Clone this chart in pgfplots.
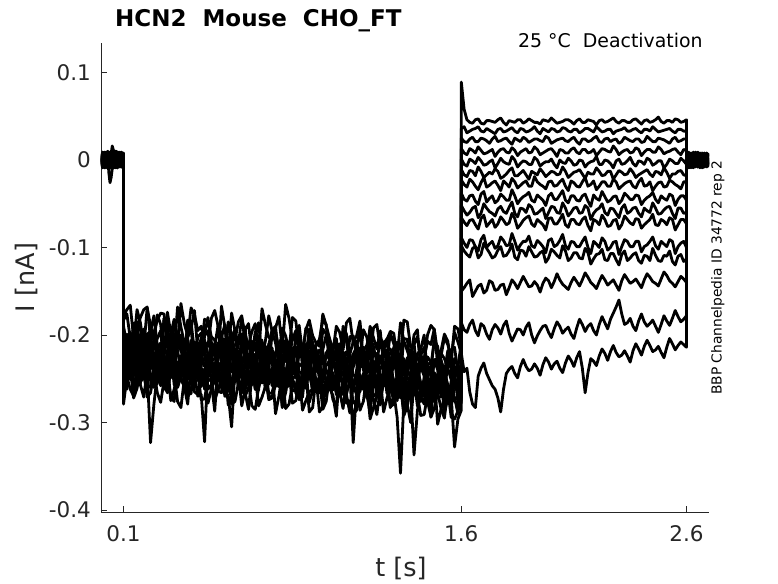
\documentclass[border=0pt]{standalone}
\usepackage{fontspec}
\setmainfont{DejaVu Sans}
\usepackage{pgfplots}
\usepackage{pgfplotstable}
\pgfplotsset{compat=1.18}
\definecolor{axgray}{RGB}{38,38,38}
\pgfplotstableread{
x c1 c2 c3 c4 c5 c6 c7 c8 c9 c10 c11 c12 c13 c14 c15
0 0.004 -0.003 0.006 -0.005 0.002 -0.007 0.008 -0.002 0.005 -0.006 0.001 -0.004 0.007 -0.008 0.003
0.0075 -0.008 0.005 -0.004 0.009 -0.006 0.003 -0.007 0.006 -0.002 0.008 -0.005 0.002 -0.009 0.004 -0.003
0.015 -0.006 0.007 -0.002 0.005 -0.008 0.004 -0.003 0.009 -0.005 0.002 -0.007 0.006 -0.001 0.004 -0.009
0.0225 0.009 -0.006 0.007 -0.003 0.004 -0.009 0.006 -0.005 0.008 -0.004 0.003 -0.008 0.005 -0.002 0.007
0.03 0.007 -0.005 0.003 -0.009 0.006 -0.002 0.010 -0.006 0.001 0.008 -0.004 0.002 -0.007 0.005 0.000
0.035 -0.006 0.009 -0.015 0.002 -0.009 0.006 -0.005 0.008 -0.003 0.005 -0.008 0.004 -0.006 0.009 -0.004
0.04 -0.003 0.006 -0.026 0.004 -0.005 0.009 -0.004 0.002 -0.008 -0.003 0.007 -0.009 0.004 -0.002 0.006
0.045 0.008 -0.005 -0.020 -0.008 0.007 -0.003 0.009 -0.006 0.004 -0.009 0.006 -0.002 0.008 -0.006 0.003
0.05 0.005 -0.008 -0.010 -0.003 0.016 -0.006 0.003 -0.007 0.010 0.004 -0.002 0.005 -0.005 0.009 -0.004
0.0575 -0.004 0.006 -0.008 0.005 0.009 0.007 -0.006 0.003 -0.009 0.007 -0.004 0.008 -0.003 0.005 -0.007
0.065 -0.007 0.003 0.005 0.008 -0.004 0.002 -0.009 0.006 -0.003 -0.008 0.010 -0.006 0.002 -0.005 0.007
0.0725 0.007 -0.009 0.004 -0.006 0.005 -0.004 0.008 -0.008 0.002 -0.005 0.009 -0.003 0.006 -0.009 0.005
0.08 0.006 -0.002 -0.006 -0.007 0.003 -0.008 0.005 -0.004 0.007 0.003 -0.006 0.009 -0.008 0.001 -0.003
0.09 -0.008 0.004 -0.007 0.006 -0.003 0.008 -0.005 0.005 -0.008 0.009 -0.002 0.007 -0.004 0.006 -0.008
0.1 -0.004 0.008 0.002 0.003 -0.006 0.005 -0.002 0.007 -0.005 0.006 -0.003 -0.002 0.005 -0.007 0.004
0.1001 -0.178 -0.251 -0.221 -0.268 -0.199 -0.240 -0.183 -0.262 -0.226 -0.212 -0.238 -0.279 -0.190 -0.247 -0.203
0.115 -0.171 -0.262 -0.199 -0.249 -0.215 -0.233 -0.176 -0.240 -0.208 -0.236 -0.219 -0.248 -0.211 -0.228 -0.217
0.13 -0.166 -0.222 -0.231 -0.238 -0.236 -0.208 -0.204 -0.229 -0.197 -0.251 -0.205 -0.262 -0.222 -0.214 -0.240
0.145 -0.204 -0.231 -0.226 -0.272 -0.201 -0.215 -0.212 -0.263 -0.231 -0.219 -0.243 -0.270 -0.187 -0.253 -0.236
0.16 -0.192 -0.258 -0.186 -0.261 -0.204 -0.246 -0.171 -0.255 -0.229 -0.218 -0.241 -0.236 -0.185 -0.252 -0.199
0.175 -0.180 -0.255 -0.194 -0.236 -0.232 -0.250 -0.186 -0.232 -0.200 -0.254 -0.211 -0.257 -0.224 -0.218 -0.206
0.19 -0.171 -0.217 -0.214 -0.247 -0.229 -0.213 -0.215 -0.223 -0.193 -0.247 -0.202 -0.271 -0.230 -0.209 -0.244
0.205 -0.168 -0.226 -0.222 -0.265 -0.209 -0.224 -0.169 -0.271 -0.235 -0.228 -0.230 -0.241 -0.199 -0.261 -0.243
0.22 -0.204 -0.249 -0.192 -0.230 -0.197 -0.237 -0.189 -0.266 -0.221 -0.209 -0.236 -0.323 -0.196 -0.258 -0.211
0.235 -0.197 -0.260 -0.203 -0.243 -0.240 -0.207 -0.207 -0.244 -0.216 -0.243 -0.205 -0.279 -0.178 -0.234 -0.221
0.25 -0.183 -0.228 -0.227 -0.266 -0.238 -0.219 -0.177 -0.234 -0.204 -0.256 -0.210 -0.245 -0.212 -0.216 -0.237
0.265 -0.175 -0.242 -0.234 -0.277 -0.217 -0.247 -0.188 -0.258 -0.195 -0.215 -0.238 -0.252 -0.227 -0.209 -0.248
0.28 -0.176 -0.262 -0.181 -0.252 -0.208 -0.251 -0.226 -0.249 -0.236 -0.221 -0.248 -0.258 -0.181 -0.245 -0.202
0.295 -0.210 -0.221 -0.190 -0.238 -0.196 -0.229 -0.174 -0.237 -0.228 -0.260 -0.218 -0.266 -0.205 -0.257 -0.213
0.31 -0.199 -0.219 -0.218 -0.275 -0.225 -0.210 -0.198 -0.271 -0.199 -0.243 -0.207 -0.240 -0.232 -0.211 -0.249
0.325 -0.182 -0.257 -0.225 -0.262 -0.235 -0.214 -0.220 -0.276 -0.211 -0.231 -0.249 -0.244 -0.184 -0.226 -0.239
0.34 -0.214 -0.253 -0.197 -0.241 -0.201 -0.243 -0.168 -0.231 -0.218 -0.212 -0.239 -0.276 -0.201 -0.260 -0.215
0.355 -0.164 -0.239 -0.208 -0.250 -0.212 -0.252 -0.191 -0.249 -0.239 -0.206 -0.226 -0.283 -0.219 -0.248 -0.200
0.37 -0.187 -0.231 -0.232 -0.259 -0.240 -0.216 -0.209 -0.259 -0.207 -0.259 -0.213 -0.250 -0.215 -0.219 -0.233
0.385 -0.201 -0.268 -0.183 -0.279 -0.228 -0.226 -0.203 -0.226 -0.204 -0.250 -0.212 -0.259 -0.196 -0.212 -0.246
0.40 -0.169 -0.267 -0.185 -0.234 -0.211 -0.254 -0.193 -0.238 -0.233 -0.224 -0.251 -0.264 -0.193 -0.243 -0.206
0.415 -0.177 -0.228 -0.219 -0.244 -0.241 -0.208 -0.172 -0.265 -0.226 -0.234 -0.244 -0.236 -0.231 -0.259 -0.224
0.43 -0.195 -0.224 -0.221 -0.270 -0.222 -0.212 -0.219 -0.268 -0.202 -0.240 -0.209 -0.243 -0.236 -0.214 -0.252
0.445 -0.190 -0.259 -0.236 -0.268 -0.203 -0.249 -0.215 -0.243 -0.198 -0.219 -0.221 -0.274 -0.207 -0.237 -0.208
0.46 -0.208 -0.246 -0.201 -0.322 -0.206 -0.239 -0.182 -0.242 -0.219 -0.215 -0.236 -0.273 -0.199 -0.262 -0.218
0.475 -0.213 -0.245 -0.195 -0.233 -0.222 -0.231 -0.184 -0.278 -0.233 -0.262 -0.235 -0.250 -0.180 -0.221 -0.250
0.49 -0.181 -0.236 -0.229 -0.249 -0.243 -0.219 -0.202 -0.262 -0.209 -0.257 -0.217 -0.253 -0.208 -0.222 -0.230
0.505 -0.172 -0.232 -0.213 -0.274 -0.237 -0.212 -0.206 -0.252 -0.215 -0.237 -0.210 -0.287 -0.222 -0.254 -0.227
0.52 -0.190 -0.264 -0.189 -0.263 -0.214 -0.251 -0.230 -0.236 -0.235 -0.227 -0.248 -0.231 -0.227 -0.246 -0.209
0.535 -0.199 -0.266 -0.230 -0.251 -0.208 -0.256 -0.167 -0.231 -0.241 -0.213 -0.247 -0.260 -0.203 -0.232 -0.211
0.55 -0.217 -0.227 -0.224 -0.237 -0.226 -0.215 -0.191 -0.270 -0.205 -0.244 -0.212 -0.268 -0.188 -0.217 -0.255
0.565 -0.185 -0.237 -0.188 -0.280 -0.230 -0.228 -0.221 -0.269 -0.207 -0.251 -0.226 -0.242 -0.234 -0.264 -0.244
0.58 -0.200 -0.255 -0.198 -0.274 -0.203 -0.242 -0.175 -0.305 -0.221 -0.213 -0.240 -0.279 -0.214 -0.265 -0.220
0.595 -0.206 -0.254 -0.221 -0.239 -0.244 -0.217 -0.195 -0.240 -0.228 -0.230 -0.216 -0.276 -0.192 -0.216 -0.230
0.61 -0.185 -0.233 -0.233 -0.256 -0.245 -0.221 -0.211 -0.244 -0.211 -0.260 -0.219 -0.255 -0.235 -0.225 -0.236
0.625 -0.178 -0.225 -0.207 -0.266 -0.213 -0.250 -0.180 -0.281 -0.199 -0.266 -0.241 -0.253 -0.216 -0.243 -0.205
0.64 -0.209 -0.270 -0.191 -0.243 -0.216 -0.255 -0.199 -0.263 -0.238 -0.229 -0.250 -0.266 -0.194 -0.249 -0.212
0.655 -0.212 -0.261 -0.238 -0.254 -0.226 -0.233 -0.213 -0.248 -0.236 -0.222 -0.229 -0.285 -0.187 -0.230 -0.252
0.67 -0.196 -0.229 -0.226 -0.281 -0.229 -0.217 -0.223 -0.237 -0.207 -0.246 -0.214 -0.248 -0.221 -0.220 -0.257
0.685 -0.187 -0.243 -0.196 -0.285 -0.239 -0.209 -0.201 -0.262 -0.217 -0.245 -0.252 -0.247 -0.228 -0.262 -0.222
0.70 -0.221 -0.258 -0.203 -0.260 -0.209 -0.245 -0.186 -0.259 -0.224 -0.216 -0.243 -0.281 -0.206 -0.263 -0.223
0.715 -0.170 -0.230 -0.225 -0.246 -0.206 -0.255 -0.226 -0.235 -0.209 -0.234 -0.214 -0.271 -0.209 -0.219 -0.238
0.73 -0.188 -0.237 -0.236 -0.248 -0.247 -0.223 -0.207 -0.246 -0.213 -0.262 -0.221 -0.259 -0.239 -0.227 -0.239
0.745 -0.203 -0.267 -0.211 -0.270 -0.231 -0.236 -0.178 -0.274 -0.243 -0.210 -0.238 -0.256 -0.241 -0.250 -0.214
0.76 -0.203 -0.266 -0.194 -0.271 -0.218 -0.258 -0.196 -0.272 -0.240 -0.231 -0.252 -0.238 -0.197 -0.251 -0.215
0.775 -0.192 -0.248 -0.190 -0.257 -0.242 -0.220 -0.209 -0.253 -0.220 -0.259 -0.223 -0.290 -0.195 -0.236 -0.256
0.79 -0.179 -0.231 -0.229 -0.239 -0.231 -0.219 -0.233 -0.239 -0.209 -0.248 -0.216 -0.270 -0.217 -0.223 -0.259
0.805 -0.216 -0.226 -0.233 -0.283 -0.217 -0.258 -0.192 -0.282 -0.203 -0.241 -0.255 -0.244 -0.213 -0.271 -0.231
0.82 -0.165 -0.260 -0.206 -0.265 -0.212 -0.247 -0.201 -0.261 -0.226 -0.218 -0.245 -0.284 -0.230 -0.266 -0.225
0.835 -0.181 -0.258 -0.217 -0.242 -0.229 -0.230 -0.218 -0.241 -0.237 -0.225 -0.218 -0.279 -0.232 -0.224 -0.219
0.85 -0.206 -0.239 -0.238 -0.278 -0.249 -0.225 -0.180 -0.248 -0.215 -0.264 -0.224 -0.257 -0.203 -0.229 -0.241
0.865 -0.195 -0.236 -0.200 -0.275 -0.248 -0.214 -0.184 -0.266 -0.214 -0.263 -0.236 -0.258 -0.201 -0.248 -0.247
0.88 -0.224 -0.268 -0.197 -0.252 -0.220 -0.260 -0.214 -0.274 -0.242 -0.233 -0.254 -0.246 -0.189 -0.253 -0.218
0.895 -0.220 -0.271 -0.237 -0.255 -0.210 -0.252 -0.223 -0.238 -0.245 -0.236 -0.249 -0.286 -0.221 -0.260 -0.226
0.91 -0.194 -0.233 -0.231 -0.244 -0.233 -0.221 -0.192 -0.241 -0.211 -0.250 -0.218 -0.275 -0.226 -0.225 -0.261
0.925 -0.183 -0.245 -0.208 -0.288 -0.235 -0.237 -0.199 -0.277 -0.208 -0.218 -0.222 -0.265 -0.193 -0.232 -0.240
0.94 -0.201 -0.262 -0.208 -0.283 -0.214 -0.249 -0.225 -0.263 -0.228 -0.220 -0.247 -0.262 -0.211 -0.268 -0.227
0.955 -0.209 -0.229 -0.226 -0.249 -0.223 -0.217 -0.212 -0.255 -0.230 -0.255 -0.241 -0.249 -0.238 -0.220 -0.216
0.97 -0.213 -0.241 -0.240 -0.262 -0.251 -0.227 -0.205 -0.250 -0.217 -0.266 -0.226 -0.288 -0.241 -0.231 -0.243
0.985 -0.176 -0.263 -0.193 -0.269 -0.244 -0.261 -0.183 -0.285 -0.219 -0.242 -0.227 -0.282 -0.217 -0.266 -0.254
1.00 -0.189 -0.270 -0.199 -0.250 -0.222 -0.262 -0.188 -0.276 -0.244 -0.235 -0.256 -0.251 -0.200 -0.255 -0.220
1.015 -0.204 -0.250 -0.229 -0.252 -0.212 -0.233 -0.228 -0.246 -0.240 -0.229 -0.256 -0.261 -0.205 -0.241 -0.229
1.03 -0.219 -0.235 -0.233 -0.274 -0.235 -0.223 -0.217 -0.243 -0.213 -0.252 -0.220 -0.269 -0.219 -0.227 -0.263
1.045 -0.190 -0.232 -0.214 -0.281 -0.238 -0.248 -0.204 -0.268 -0.211 -0.265 -0.219 -0.293 -0.229 -0.225 -0.243
1.06 -0.197 -0.264 -0.210 -0.241 -0.216 -0.251 -0.236 -0.265 -0.230 -0.222 -0.249 -0.241 -0.233 -0.270 -0.229
1.075 -0.217 -0.268 -0.236 -0.260 -0.226 -0.219 -0.190 -0.284 -0.234 -0.235 -0.244 -0.257 -0.199 -0.256 -0.221
1.09 -0.186 -0.243 -0.242 -0.268 -0.253 -0.229 -0.199 -0.252 -0.219 -0.268 -0.228 -0.278 -0.207 -0.233 -0.245
1.105 -0.181 -0.241 -0.202 -0.289 -0.249 -0.257 -0.222 -0.249 -0.222 -0.251 -0.230 -0.275 -0.234 -0.238 -0.258
1.12 -0.210 -0.323 -0.201 -0.257 -0.224 -0.264 -0.208 -0.278 -0.246 -0.237 -0.258 -0.290 -0.222 -0.257 -0.222
1.135 -0.207 -0.262 -0.224 -0.254 -0.216 -0.240 -0.201 -0.275 -0.247 -0.221 -0.253 -0.286 -0.214 -0.268 -0.232
1.15 -0.228 -0.237 -0.235 -0.286 -0.237 -0.225 -0.184 -0.245 -0.215 -0.254 -0.222 -0.260 -0.195 -0.229 -0.265
1.165 -0.194 -0.234 -0.218 -0.276 -0.233 -0.226 -0.230 -0.257 -0.214 -0.262 -0.224 -0.262 -0.240 -0.230 -0.245
1.18 -0.202 -0.266 -0.212 -0.246 -0.218 -0.253 -0.220 -0.267 -0.232 -0.224 -0.251 -0.254 -0.244 -0.272 -0.231
1.195 -0.224 -0.273 -0.197 -0.265 -0.247 -0.262 -0.190 -0.289 -0.238 -0.240 -0.245 -0.296 -0.203 -0.252 -0.222
1.21 -0.192 -0.245 -0.244 -0.273 -0.255 -0.231 -0.203 -0.254 -0.221 -0.270 -0.230 -0.283 -0.213 -0.235 -0.247
1.225 -0.188 -0.247 -0.233 -0.291 -0.221 -0.236 -0.216 -0.262 -0.225 -0.267 -0.233 -0.270 -0.232 -0.271 -0.260
1.24 -0.215 -0.272 -0.203 -0.262 -0.226 -0.266 -0.195 -0.280 -0.248 -0.239 -0.260 -0.249 -0.228 -0.259 -0.224
1.255 -0.209 -0.256 -0.210 -0.258 -0.239 -0.251 -0.236 -0.250 -0.249 -0.232 -0.258 -0.288 -0.218 -0.239 -0.234
1.27 -0.205 -0.239 -0.237 -0.251 -0.239 -0.227 -0.229 -0.247 -0.217 -0.256 -0.224 -0.272 -0.204 -0.231 -0.267
1.285 -0.196 -0.237 -0.241 -0.282 -0.228 -0.230 -0.198 -0.283 -0.216 -0.257 -0.236 -0.259 -0.243 -0.262 -0.247
1.30 -0.198 -0.268 -0.214 -0.279 -0.220 -0.255 -0.210 -0.269 -0.234 -0.226 -0.253 -0.265 -0.237 -0.274 -0.233
1.315 -0.226 -0.275 -0.215 -0.267 -0.252 -0.265 -0.225 -0.270 -0.241 -0.236 -0.250 -0.294 -0.208 -0.246 -0.226
1.33 -0.222 -0.247 -0.246 -0.255 -0.257 -0.233 -0.186 -0.256 -0.223 -0.272 -0.232 -0.358 -0.216 -0.237 -0.249
1.345 -0.183 -0.250 -0.204 -0.290 -0.233 -0.241 -0.207 -0.292 -0.230 -0.270 -0.227 -0.276 -0.235 -0.274 -0.262
1.36 -0.185 -0.274 -0.205 -0.268 -0.228 -0.268 -0.218 -0.282 -0.250 -0.241 -0.262 -0.279 -0.247 -0.261 -0.226
1.375 -0.214 -0.263 -0.237 -0.262 -0.219 -0.254 -0.230 -0.259 -0.252 -0.246 -0.261 -0.300 -0.219 -0.243 -0.238
1.39 -0.211 -0.241 -0.239 -0.337 -0.241 -0.229 -0.200 -0.249 -0.219 -0.258 -0.226 -0.256 -0.209 -0.233 -0.269
1.405 -0.202 -0.240 -0.222 -0.287 -0.248 -0.236 -0.194 -0.281 -0.225 -0.262 -0.240 -0.268 -0.245 -0.265 -0.250
1.42 -0.231 -0.270 -0.216 -0.260 -0.222 -0.257 -0.238 -0.271 -0.236 -0.228 -0.255 -0.292 -0.223 -0.276 -0.235
1.435 -0.229 -0.279 -0.200 -0.270 -0.235 -0.268 -0.227 -0.262 -0.247 -0.239 -0.263 -0.291 -0.214 -0.248 -0.229
1.45 -0.200 -0.249 -0.248 -0.276 -0.259 -0.235 -0.207 -0.258 -0.225 -0.274 -0.234 -0.268 -0.238 -0.239 -0.251
1.465 -0.189 -0.254 -0.239 -0.293 -0.256 -0.245 -0.211 -0.294 -0.231 -0.276 -0.231 -0.281 -0.236 -0.280 -0.264
1.48 -0.194 -0.276 -0.207 -0.249 -0.230 -0.270 -0.193 -0.284 -0.252 -0.243 -0.264 -0.247 -0.206 -0.263 -0.228
1.495 -0.220 -0.267 -0.213 -0.266 -0.226 -0.258 -0.234 -0.266 -0.255 -0.250 -0.268 -0.302 -0.222 -0.245 -0.240
1.51 -0.218 -0.243 -0.241 -0.284 -0.243 -0.231 -0.224 -0.251 -0.221 -0.260 -0.228 -0.285 -0.249 -0.235 -0.271
1.525 -0.199 -0.245 -0.244 -0.295 -0.251 -0.239 -0.203 -0.288 -0.227 -0.269 -0.244 -0.272 -0.250 -0.270 -0.255
1.54 -0.207 -0.272 -0.218 -0.263 -0.224 -0.259 -0.211 -0.273 -0.238 -0.230 -0.257 -0.263 -0.220 -0.278 -0.237
1.555 -0.232 -0.282 -0.219 -0.274 -0.237 -0.271 -0.226 -0.270 -0.251 -0.238 -0.271 -0.294 -0.217 -0.253 -0.233
1.57 -0.190 -0.251 -0.250 -0.271 -0.261 -0.237 -0.197 -0.328 -0.227 -0.276 -0.236 -0.296 -0.214 -0.241 -0.253
1.585 -0.193 -0.257 -0.236 -0.290 -0.259 -0.248 -0.208 -0.296 -0.235 -0.278 -0.238 -0.287 -0.243 -0.277 -0.268
1.60 -0.214 -0.278 -0.209 -0.258 -0.232 -0.272 -0.221 -0.286 -0.254 -0.245 -0.266 -0.274 -0.235 -0.265 -0.230
1.6001 0.089 0.036 0.025 0.013 0.001 -0.011 -0.023 -0.038 -0.052 -0.066 -0.089 -0.098 -0.150 -0.186 -0.221
1.6125 0.058 0.038 0.021 0.008 -0.005 -0.017 -0.028 -0.045 -0.058 -0.071 -0.095 -0.104 -0.146 -0.194 -0.242
1.625 0.046 0.031 0.020 0.006 -0.007 -0.019 -0.031 -0.047 -0.063 -0.075 -0.100 -0.108 -0.141 -0.197 -0.238
1.6375 0.043 0.033 0.024 0.013 0.001 -0.012 -0.022 -0.041 -0.060 -0.069 -0.091 -0.111 -0.137 -0.188 -0.265
1.65 0.042 0.035 0.026 0.011 -0.001 -0.013 -0.025 -0.040 -0.055 -0.068 -0.092 -0.101 -0.156 -0.183 -0.279
1.6625 0.046 0.036 0.021 0.008 -0.004 -0.018 -0.030 -0.047 -0.053 -0.074 -0.099 -0.099 -0.150 -0.195 -0.283
1.675 0.047 0.038 0.021 0.015 0.003 -0.008 -0.034 -0.051 -0.066 -0.079 -0.104 -0.112 -0.144 -0.201 -0.247
1.6875 0.042 0.033 0.025 0.011 -0.001 -0.013 -0.026 -0.039 -0.061 -0.067 -0.091 -0.108 -0.142 -0.187 -0.238
1.7 0.041 0.032 0.024 0.007 -0.006 -0.020 -0.020 -0.036 -0.050 -0.063 -0.086 -0.095 -0.152 -0.190 -0.232
1.7125 0.045 0.036 0.022 0.008 -0.005 -0.017 -0.031 -0.048 -0.055 -0.076 -0.100 -0.101 -0.149 -0.199 -0.244
1.725 0.045 0.034 0.019 0.010 -0.002 -0.014 -0.029 -0.044 -0.059 -0.072 -0.096 -0.106 -0.138 -0.205 -0.251
1.7375 0.044 0.032 0.024 0.012 0.000 -0.016 -0.026 -0.041 -0.061 -0.068 -0.093 -0.112 -0.140 -0.194 -0.258
1.75 0.043 0.030 0.027 0.004 -0.009 -0.010 -0.024 -0.049 -0.064 -0.077 -0.101 -0.110 -0.149 -0.188 -0.262
1.7625 0.046 0.035 0.021 0.009 -0.004 -0.013 -0.029 -0.046 -0.056 -0.073 -0.098 -0.103 -0.148 -0.192 -0.272
1.775 0.048 0.036 0.022 0.012 0.002 -0.021 -0.035 -0.039 -0.053 -0.065 -0.088 -0.099 -0.143 -0.199 -0.288
1.7875 0.043 0.032 0.024 0.013 -0.002 -0.019 -0.024 -0.042 -0.059 -0.069 -0.092 -0.110 -0.142 -0.189 -0.262
1.8 0.040 0.033 0.025 0.009 -0.004 -0.016 -0.027 -0.046 -0.061 -0.074 -0.098 -0.109 -0.154 -0.184 -0.244
1.8125 0.045 0.035 0.021 0.008 -0.005 -0.012 -0.031 -0.046 -0.054 -0.072 -0.097 -0.104 -0.146 -0.198 -0.239
1.825 0.044 0.037 0.018 0.014 0.004 -0.009 -0.021 -0.034 -0.048 -0.061 -0.084 -0.096 -0.137 -0.207 -0.236
1.8375 0.043 0.033 0.025 0.011 0.000 -0.018 -0.025 -0.041 -0.061 -0.067 -0.093 -0.111 -0.141 -0.200 -0.244
1.85 0.046 0.031 0.023 0.005 -0.008 -0.018 -0.032 -0.050 -0.065 -0.078 -0.103 -0.114 -0.147 -0.193 -0.249
1.8625 0.046 0.036 0.021 0.009 -0.004 -0.015 -0.029 -0.045 -0.055 -0.074 -0.097 -0.103 -0.140 -0.194 -0.236
1.875 0.042 0.035 0.026 0.011 -0.001 -0.012 -0.026 -0.042 -0.056 -0.069 -0.093 -0.104 -0.133 -0.200 -0.228
1.8875 0.044 0.032 0.024 0.013 -0.002 -0.017 -0.024 -0.040 -0.060 -0.066 -0.093 -0.110 -0.139 -0.191 -0.236
1.9 0.047 0.033 0.020 0.008 -0.005 -0.022 -0.030 -0.037 -0.051 -0.064 -0.087 -0.099 -0.145 -0.186 -0.241
1.9125 0.045 0.035 0.022 0.009 -0.005 -0.013 -0.030 -0.046 -0.054 -0.073 -0.098 -0.105 -0.144 -0.200 -0.239
1.925 0.043 0.038 0.024 0.015 0.003 -0.015 -0.019 -0.048 -0.062 -0.076 -0.100 -0.111 -0.139 -0.209 -0.233
1.9375 0.043 0.033 0.024 0.012 0.000 -0.017 -0.025 -0.040 -0.061 -0.068 -0.092 -0.110 -0.143 -0.201 -0.238
1.95 0.041 0.030 0.022 0.006 -0.007 -0.010 -0.028 -0.043 -0.058 -0.071 -0.095 -0.106 -0.151 -0.195 -0.246
1.9625 0.046 0.036 0.021 0.008 -0.004 -0.014 -0.030 -0.046 -0.055 -0.074 -0.099 -0.104 -0.141 -0.190 -0.234
1.975 0.045 0.034 0.027 0.010 -0.002 -0.019 -0.033 -0.052 -0.067 -0.080 -0.106 -0.117 -0.135 -0.189 -0.226
1.9875 0.044 0.032 0.025 0.012 -0.002 -0.016 -0.025 -0.041 -0.060 -0.067 -0.092 -0.112 -0.138 -0.197 -0.231
2.0 0.048 0.036 0.019 0.013 0.001 -0.013 -0.024 -0.038 -0.053 -0.066 -0.090 -0.102 -0.146 -0.203 -0.239
2.0125 0.045 0.035 0.021 0.009 -0.005 -0.014 -0.030 -0.045 -0.054 -0.073 -0.099 -0.105 -0.139 -0.193 -0.233
2.025 0.042 0.032 0.023 0.004 -0.009 -0.017 -0.029 -0.045 -0.060 -0.073 -0.097 -0.109 -0.130 -0.185 -0.230
2.0375 0.043 0.033 0.024 0.012 0.000 -0.016 -0.025 -0.040 -0.061 -0.068 -0.092 -0.112 -0.137 -0.190 -0.238
2.05 0.044 0.037 0.025 0.011 -0.003 -0.008 -0.022 -0.035 -0.049 -0.062 -0.085 -0.098 -0.142 -0.198 -0.243
2.0625 0.046 0.036 0.022 0.008 -0.004 -0.013 -0.030 -0.046 -0.055 -0.074 -0.098 -0.104 -0.145 -0.194 -0.232
2.075 0.046 0.033 0.021 0.008 0.002 -0.020 -0.035 -0.049 -0.064 -0.077 -0.102 -0.115 -0.148 -0.191 -0.224
2.0875 0.044 0.032 0.024 0.012 -0.001 -0.017 -0.024 -0.041 -0.060 -0.068 -0.093 -0.112 -0.140 -0.199 -0.229
2.1 0.041 0.035 0.026 0.014 -0.006 -0.014 -0.026 -0.041 -0.055 -0.068 -0.094 -0.106 -0.134 -0.204 -0.236
2.1125 0.045 0.035 0.021 0.009 -0.005 -0.013 -0.030 -0.046 -0.054 -0.073 -0.099 -0.106 -0.139 -0.192 -0.226
2.125 0.047 0.031 0.018 0.007 0.000 -0.011 -0.031 -0.047 -0.061 -0.074 -0.099 -0.112 -0.144 -0.182 -0.219
2.1375 0.043 0.033 0.024 0.012 -0.001 -0.016 -0.025 -0.041 -0.060 -0.068 -0.093 -0.113 -0.137 -0.188 -0.238
2.15 0.043 0.036 0.024 0.012 -0.008 -0.021 -0.020 -0.039 -0.052 -0.065 -0.088 -0.101 -0.129 -0.196 -0.266
2.1625 0.046 0.036 0.021 0.008 -0.004 -0.014 -0.030 -0.047 -0.055 -0.075 -0.100 -0.106 -0.134 -0.190 -0.243
2.175 0.045 0.034 0.022 0.009 -0.002 -0.016 -0.028 -0.053 -0.068 -0.081 -0.107 -0.119 -0.140 -0.187 -0.227
2.1875 0.044 0.032 0.025 0.012 -0.001 -0.016 -0.024 -0.040 -0.061 -0.068 -0.093 -0.113 -0.143 -0.195 -0.230
2.2 0.040 0.038 0.027 0.005 0.004 -0.009 -0.034 -0.044 -0.057 -0.070 -0.096 -0.108 -0.147 -0.200 -0.235
2.2125 0.045 0.035 0.021 0.009 -0.005 -0.013 -0.030 -0.046 -0.055 -0.074 -0.100 -0.107 -0.139 -0.188 -0.224
2.225 0.046 0.032 0.020 0.013 -0.005 -0.018 -0.025 -0.036 -0.050 -0.063 -0.089 -0.102 -0.132 -0.179 -0.216
2.2375 0.043 0.033 0.024 0.012 0.000 -0.017 -0.025 -0.042 -0.060 -0.068 -0.093 -0.114 -0.137 -0.186 -0.221
2.25 0.044 0.035 0.025 0.010 -0.001 -0.013 -0.030 -0.048 -0.063 -0.076 -0.103 -0.115 -0.143 -0.193 -0.229
2.2625 0.046 0.035 0.021 0.009 -0.004 -0.013 -0.030 -0.046 -0.055 -0.075 -0.100 -0.107 -0.140 -0.182 -0.219
2.275 0.048 0.030 0.023 0.016 -0.009 -0.022 -0.022 -0.042 -0.056 -0.069 -0.094 -0.107 -0.137 -0.175 -0.212
2.2875 0.044 0.033 0.024 0.012 -0.001 -0.017 -0.025 -0.041 -0.061 -0.068 -0.093 -0.114 -0.143 -0.168 -0.220
2.3 0.042 0.034 0.019 0.006 0.001 -0.012 -0.033 -0.050 -0.066 -0.079 -0.108 -0.120 -0.149 -0.160 -0.225
2.3125 0.045 0.035 0.021 0.009 -0.005 -0.014 -0.030 -0.046 -0.055 -0.074 -0.099 -0.108 -0.138 -0.176 -0.223
2.325 0.045 0.037 0.026 0.011 -0.004 -0.017 -0.027 -0.038 -0.051 -0.064 -0.091 -0.104 -0.131 -0.188 -0.218
2.3375 0.043 0.033 0.024 0.012 -0.001 -0.016 -0.025 -0.041 -0.061 -0.068 -0.093 -0.115 -0.136 -0.186 -0.224
2.35 0.043 0.033 0.022 0.008 0.003 -0.010 -0.024 -0.045 -0.059 -0.072 -0.099 -0.112 -0.141 -0.181 -0.231
2.3625 0.046 0.035 0.021 0.009 -0.004 -0.014 -0.030 -0.045 -0.055 -0.074 -0.099 -0.108 -0.139 -0.190 -0.218
2.375 0.047 0.036 0.024 0.014 -0.007 -0.020 -0.032 -0.040 -0.054 -0.067 -0.093 -0.106 -0.136 -0.195 -0.210
2.3875 0.044 0.033 0.024 0.012 -0.001 -0.017 -0.025 -0.041 -0.061 -0.068 -0.093 -0.115 -0.141 -0.184 -0.216
2.4 0.041 0.031 0.020 0.005 -0.002 -0.015 -0.021 -0.051 -0.065 -0.078 -0.105 -0.118 -0.146 -0.176 -0.223
2.4125 0.045 0.035 0.021 0.009 -0.005 -0.013 -0.030 -0.046 -0.055 -0.074 -0.099 -0.109 -0.137 -0.185 -0.213
2.425 0.046 0.035 0.027 0.012 0.002 -0.011 -0.029 -0.043 -0.058 -0.071 -0.097 -0.110 -0.130 -0.190 -0.206
2.4375 0.043 0.033 0.024 0.012 0.000 -0.016 -0.025 -0.041 -0.060 -0.068 -0.093 -0.115 -0.134 -0.187 -0.212
2.45 0.044 0.038 0.021 0.009 -0.006 -0.019 -0.035 -0.037 -0.049 -0.062 -0.088 -0.101 -0.139 -0.183 -0.219
2.4625 0.046 0.035 0.021 0.009 -0.004 -0.013 -0.030 -0.045 -0.055 -0.074 -0.098 -0.109 -0.141 -0.190 -0.217
2.475 0.049 0.032 0.025 0.015 -0.001 -0.014 -0.026 -0.049 -0.062 -0.075 -0.102 -0.115 -0.144 -0.197 -0.213
2.4875 0.044 0.033 0.024 0.012 -0.001 -0.017 -0.025 -0.041 -0.061 -0.068 -0.093 -0.116 -0.136 -0.188 -0.220
2.5 0.042 0.034 0.023 0.007 -0.009 -0.009 -0.031 -0.044 -0.057 -0.070 -0.096 -0.109 -0.128 -0.178 -0.226
2.5125 0.045 0.035 0.021 0.009 -0.005 -0.014 -0.030 -0.046 -0.054 -0.074 -0.099 -0.110 -0.132 -0.184 -0.214
2.525 0.045 0.036 0.019 0.010 0.001 -0.021 -0.023 -0.039 -0.053 -0.066 -0.091 -0.104 -0.138 -0.189 -0.204
2.5375 0.043 0.033 0.024 0.012 -0.001 -0.016 -0.025 -0.041 -0.061 -0.068 -0.093 -0.116 -0.141 -0.181 -0.210
2.55 0.047 0.031 0.026 0.013 -0.004 -0.016 -0.028 -0.052 -0.067 -0.080 -0.107 -0.120 -0.145 -0.172 -0.217
2.5625 0.046 0.035 0.021 0.009 -0.004 -0.013 -0.030 -0.045 -0.055 -0.074 -0.099 -0.110 -0.139 -0.179 -0.212
2.575 0.043 0.035 0.022 0.006 0.002 -0.012 -0.033 -0.041 -0.055 -0.068 -0.095 -0.108 -0.133 -0.185 -0.208
2.5875 0.044 0.033 0.024 0.012 -0.001 -0.017 -0.025 -0.041 -0.061 -0.068 -0.093 -0.116 -0.136 -0.182 -0.211
2.6 0.046 0.033 0.024 0.011 -0.005 -0.018 -0.025 -0.046 -0.060 -0.073 -0.100 -0.113 -0.140 -0.178 -0.214
2.6001 0.006 -0.004 0.002 -0.007 0.008 -0.001 0.004 -0.006 0.003 -0.008 0.005 -0.003 0.007 -0.005 0.001
2.61 -0.008 0.005 -0.006 0.009 -0.004 0.007 -0.009 0.003 -0.006 0.004 -0.003 0.008 -0.007 0.002 -0.005
2.62 -0.005 0.007 -0.008 0.003 -0.002 0.006 -0.007 0.002 -0.004 0.005 -0.009 0.004 -0.001 0.008 -0.006
2.63 0.008 -0.003 0.006 -0.008 0.005 -0.005 0.006 -0.007 0.009 -0.003 0.006 -0.009 0.004 -0.006 0.008
2.64 0.004 -0.006 0.005 -0.001 0.007 -0.008 0.002 0.006 -0.007 0.001 0.003 -0.005 0.009 -0.002 0.004
2.65 -0.006 0.008 -0.004 0.005 -0.008 0.004 -0.005 0.009 -0.002 0.007 -0.007 0.005 -0.008 0.006 -0.003
2.66 -0.007 0.002 -0.003 0.008 -0.005 0.003 -0.009 -0.004 0.006 -0.002 0.007 0.001 -0.006 0.005 -0.008
2.67 0.006 -0.007 0.008 -0.005 0.004 -0.009 0.005 -0.006 0.003 -0.008 0.004 -0.006 0.007 -0.004 0.005
2.68 0.005 -0.008 0.006 -0.004 0.001 -0.006 0.007 0.003 -0.005 0.008 -0.002 -0.007 0.004 -0.003 0.006
2.69 -0.005 0.006 -0.006 0.007 -0.006 0.005 -0.004 0.007 -0.007 0.004 -0.008 0.006 -0.005 0.008 -0.004
2.7 -0.002 0.005 -0.005 0.006 -0.007 0.004 -0.003 -0.008 0.002 -0.006 0.004 0.006 -0.004 0.001 -0.005
}\traces
\begin{document}
\begin{tikzpicture}[x=1pt,y=1pt]
\useasboundingbox (0,0) rectangle (778,583);
\begin{axis}[
  at={(101pt,71pt)}, anchor=south west,
  scale only axis, width=608pt, height=469pt,
  xmin=0, xmax=2.7, ymin=-0.4023, ymax=0.1337,
  axis lines=left,
  axis line style={-, color=axgray, line width=0.7pt},
  xtick={0.1,1.6,2.6}, xticklabels={0.1,1.6,2.6},
  ytick={-0.4,-0.3,-0.2,-0.1,0,0.1},
  yticklabels={-0.4,-0.3,-0.2,-0.1,0,0.1},
  tick align=inside, major tick length=5.7pt,
  tick style={color=axgray, line width=0.7pt},
  xticklabel style={font=\fontsize{21.5}{25}\selectfont, text=axgray, anchor=base, yshift=-29pt},
  yticklabel style={font=\fontsize{21.5}{25}\selectfont, text=axgray, anchor=east, inner sep=0pt, xshift=-10pt},
  xlabel={t [s]}, ylabel={I [nA]},
  xlabel style={font=\fontsize{25.5}{30}\selectfont, text=axgray, at={(axis description cs:0.4934,-0.1371)}, anchor=base},
  ylabel style={font=\fontsize{25.5}{30}\selectfont, text=axgray, at={(axis description cs:-0.1090,0.5)}, anchor=base},
]
\pgfplotsinvokeforeach{1,...,15}{
  \addplot[black, line width=2.8pt, line join=round, no markers] table[x=x, y=c#1] {\traces};
}
\end{axis}
\node[anchor=base west, inner sep=0pt, font=\fontsize{23}{27}\selectfont\bfseries] at (115,556.5) {HCN2\ \ Mouse\ \ CHO\_FT};
\node[anchor=base west, inner sep=0pt, font=\fontsize{18.9}{23}\selectfont] at (518,535.7) {25 °C\ \ Deactivation};
\node[anchor=base west, inner sep=0pt, rotate=90, font=\fontsize{13.8}{16}\selectfont] at (721.7,188) {BBP Channelpedia ID 34772 rep 2};
\end{tikzpicture}
\end{document}
